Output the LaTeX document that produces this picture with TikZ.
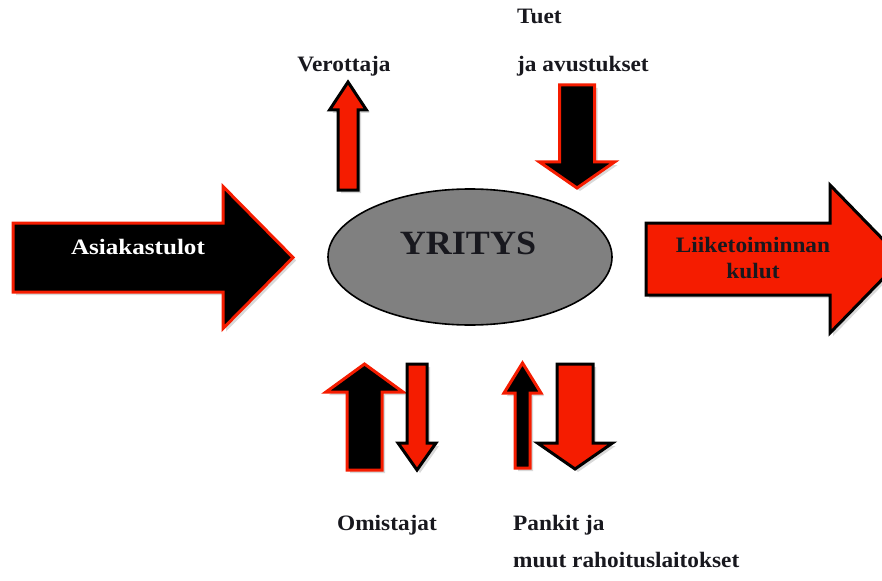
\documentclass[tikz,border=0pt]{standalone}
\usepackage{fontspec}
\setmainfont{Liberation Serif}
\newfontfamily\labelfont[FakeStretch=1.06]{Liberation Serif}
\newfontfamily\widelabelfont[FakeStretch=1.14]{Liberation Serif}
\usetikzlibrary{shadows,shapes.geometric}

\definecolor{flowred}{RGB}{245,28,0}
\definecolor{hubgray}{RGB}{128,128,128}
\definecolor{inkdark}{RGB}{24,24,30}

% Block arrow pointing up or down: style, centre x, shaft half-width,
% head half-width, tail y, head-base y, tip y
\newcommand\vblockarrow[7]{%
  \draw[#1] ({#2-#3},#5) -- ({#2-#3},#6) -- ({#2-#4},#6) -- (#2,#7)
    -- ({#2+#4},#6) -- ({#2+#3},#6) -- ({#2+#3},#5) -- cycle;}
% Block arrow pointing left or right: style, centre y, shaft half-width,
% head half-width, tail x, head-base x, tip x
\newcommand\hblockarrow[7]{%
  \draw[#1] (#5,{#2-#3}) -- (#6,{#2-#3}) -- (#6,{#2-#4}) -- (#7,#2)
    -- (#6,{#2+#4}) -- (#6,{#2+#3}) -- (#5,{#2+#3}) -- cycle;}

\tikzset{
  inflow/.style={fill=black, draw=flowred, line width=3pt, line join=miter,
    drop shadow={shadow xshift=3pt, shadow yshift=-3pt, opacity=0.3}},
  outflow/.style={fill=flowred, draw=black, line width=3pt, line join=miter,
    drop shadow={shadow xshift=3pt, shadow yshift=-3pt, opacity=0.3}},
  label/.style={font=\labelfont\fontsize{22}{26}\selectfont\bfseries, text=inkdark, inner sep=0pt},
  hub/.style={ellipse, fill=hubgray, draw=black, line width=1.6pt,
    minimum width=284pt, minimum height=136pt, inner sep=0pt},
}

\begin{document}
\begin{tikzpicture}[x=1pt, y=-1pt]
  \useasboundingbox (0,0) rectangle (882,580);

  % central company
  \node[hub] (firm) at (470,257) {};
  \node[font=\labelfont\fontsize{34}{40}\selectfont\bfseries, text=inkdark,
    inner sep=0pt, anchor=base] (firmname) at (468,254) {YRITYS};

  % customer income (in from the left)
  \hblockarrow{inflow}{257.5}{34.5}{71}{13}{223}{293}
  \node[font=\widelabelfont\fontsize{22}{26}\selectfont\bfseries, text=white,
    inner sep=0pt, anchor=base] (customers) at (138,254) {Asiakastulot};

  % operating costs (out to the right)
  \hblockarrow{outflow}{259}{36}{74}{646}{830}{902}
  \node[label, anchor=base] (costs1) at (753,252) {Liiketoiminnan};
  \node[label, anchor=base] (costs2) at (753,278) {kulut};

  % tax authority (out, upwards)
  \vblockarrow{outflow}{348}{10}{18.5}{190}{110}{82}
  \node[label, anchor=base] (tax) at (344,72) {Verottaja};

  % subsidies and grants (in, downwards)
  \vblockarrow{inflow}{577}{17.5}{37.5}{85}{162}{188}
  \node[label, anchor=base west] (grants1) at (517,24) {Tuet};
  \node[label, anchor=base west] (grants2) at (517,72) {ja avustukset};

  % owners: capital in, returns out
  \vblockarrow{inflow}{364.5}{17.5}{38.5}{470}{392}{364}
  \vblockarrow{outflow}{417}{10}{19}{364}{443}{470}
  \node[label, anchor=base] (owners) at (387,530) {Omistajat};

  % banks: loans in, repayments out
  \vblockarrow{inflow}{522.5}{7.5}{18.5}{468}{393}{363}
  \vblockarrow{outflow}{575}{18}{37.5}{364}{443}{469}
  \node[label, anchor=base west] (banks1) at (513,530) {Pankit ja};
  \node[label, anchor=base west] (banks2) at (513,567) {muut rahoituslaitokset};
\end{tikzpicture}
\end{document}
